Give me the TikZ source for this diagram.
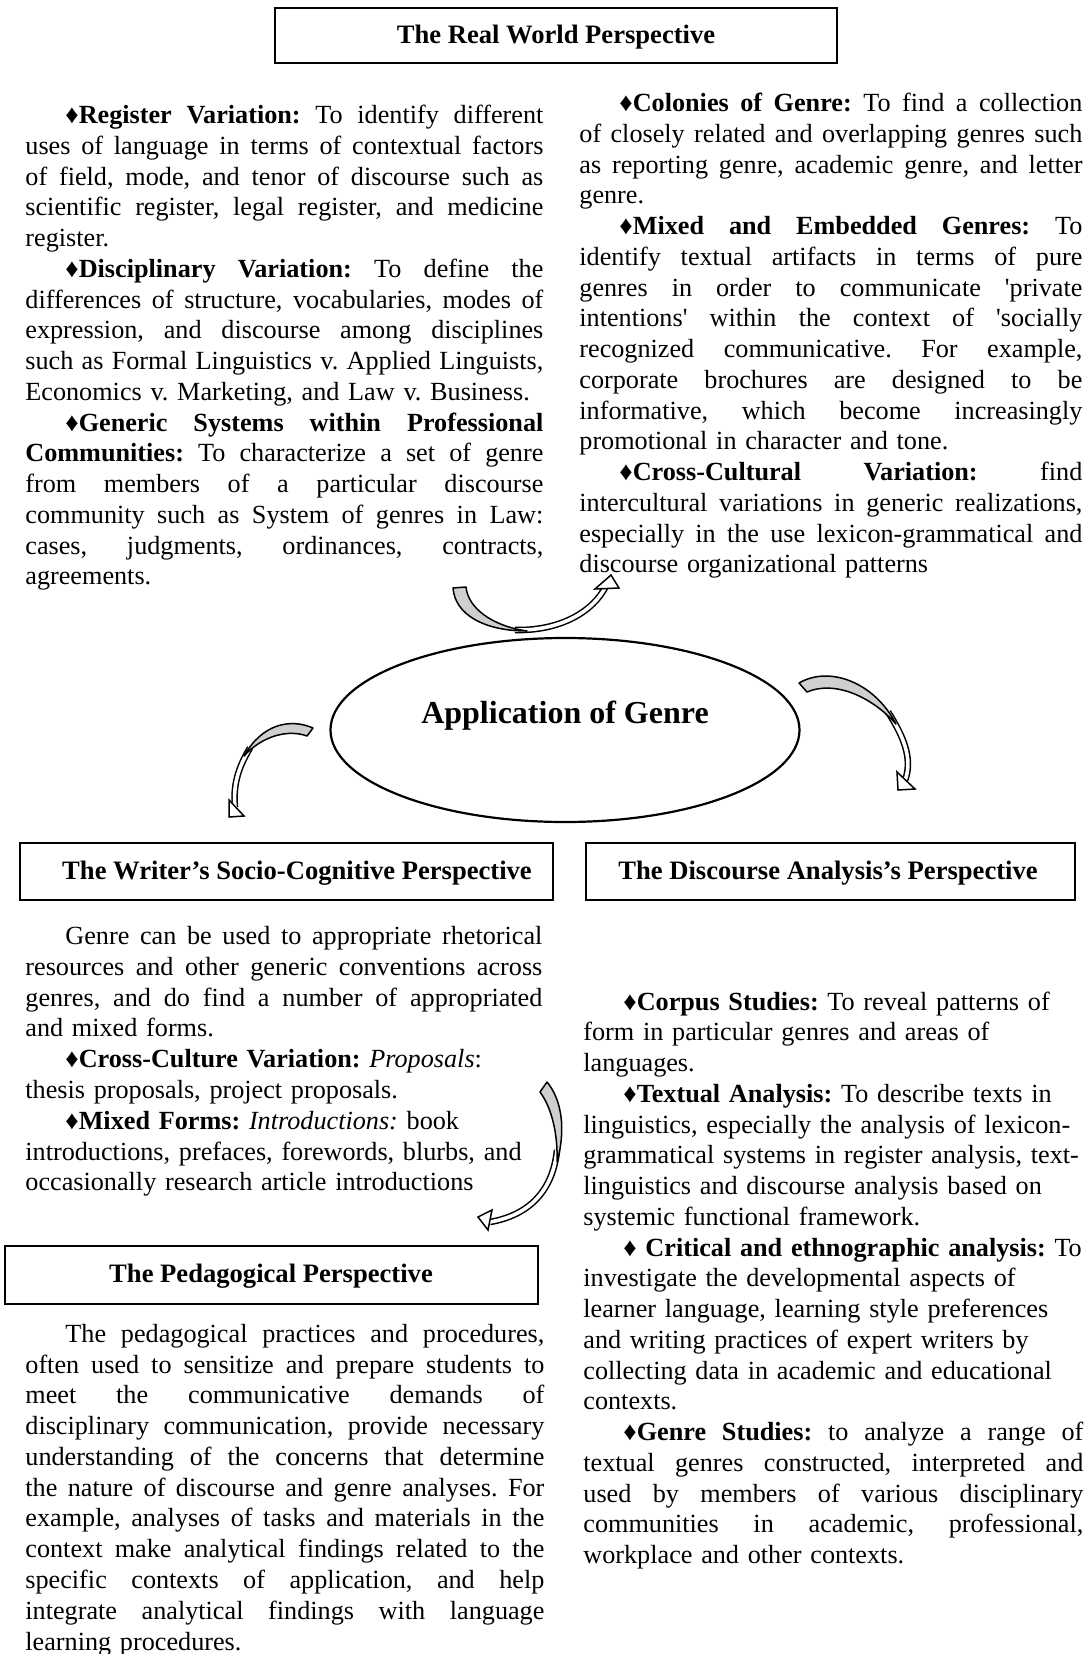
\documentclass[tikz,border=0pt]{standalone}
\usepackage{fontspec}
\setmainfont{Liberation Serif}
\usetikzlibrary{shapes.geometric}
\frenchspacing
% one justified line and one ragged (last) line of a text column
\newdimen\colw
\newcommand\jline[1]{\hbox to\colw{\spaceskip=.25em plus 1fil minus .05em\relax #1}}
\newcommand\rline[1]{\hbox to\colw{#1\hfil}}
\newcommand\ind{\hspace*{20pt}}
\begin{document}
\begin{tikzpicture}[x=0.5pt,y=-0.5pt,
  titlebox/.style={draw, line width=0.6pt},
  title/.style={anchor=base, inner sep=0pt, font=\fontsize{13.3}{15.4}\selectfont\bfseries},
  col/.style={anchor=base west, inner sep=0pt, text width=#1,
    font=\fontsize{13.1}{15.38}\selectfont},
  band/.style={line width=0.75pt, double=white, double distance=1.8pt},
  tailfill/.style={fill=gray!38, draw=black, line width=0.75pt, line join=round},
  headfill/.style={fill=white, draw=black, line width=0.75pt, line join=miter}
]
\fill[white] (0,0) rectangle (1091,1654);
\useasboundingbox (0,0) rectangle (1091,1654);

% ---------- title boxes ----------
\draw[titlebox] (275,8) rectangle (837,63);
\node[title] (rwt) at (556,43) {The Real World Perspective};

\draw[titlebox] (20,843) rectangle (553,900);
\node[title] (wst) at (297,879) {The Writer’s Socio-Cognitive Perspective};

\draw[titlebox] (586,843) rectangle (1075,900);
\node[title] (dat) at (828,879) {The Discourse Analysis’s Perspective};

\draw[titlebox] (5,1246) rectangle (538,1304);
\node[title] (pdt) at (271,1282) {The Pedagogical Perspective};

% ---------- central ellipse ----------
\node[ellipse, draw, line width=1.1pt, minimum width=234.5pt, minimum height=92pt, inner sep=0pt] (app) at (565,730) {};
\node[anchor=base, inner sep=0pt, font=\fontsize{16}{19}\selectfont\bfseries] (apptext) at (565,723) {Application of Genre};

% ---------- real world texts ----------
\node[col=259pt] (rwl) at (25,123.5) {\colw=259pt\relax
\jline{\ind{\bfseries ♦Register Variation:} To identify different}
\jline{uses of language in terms of contextual factors}
\jline{of field, mode, and tenor of discourse such as}
\jline{scientific register, legal register, and medicine}
\rline{register.}
\jline{\ind{\bfseries ♦Disciplinary Variation:} To define the}
\jline{differences of structure, vocabularies, modes of}
\jline{expression, and discourse among disciplines}
\jline{such as Formal Linguistics v. Applied Linguists,}
\rline{Economics v. Marketing, and Law v. Business.}
\jline{\ind{\bfseries ♦Generic Systems within Professional}}
\jline{{\bfseries Communities:} To characterize a set of genre}
\jline{from members of a particular discourse}
\jline{community such as System of genres in Law:}
\jline{cases, judgments, ordinances, contracts,}
\rline{agreements.}};

\node[col=251.5pt] (rwr) at (579,111.5) {\colw=251.5pt\relax
\jline{\ind{\bfseries ♦Colonies of Genre:} To find a collection}
\jline{of closely related and overlapping genres such}
\jline{as reporting genre, academic genre, and letter}
\rline{genre.}
\jline{\ind{\bfseries ♦Mixed and Embedded Genres:} To}
\jline{identify textual artifacts in terms of pure}
\jline{genres in order to communicate \textquotesingle private}
\jline{intentions\textquotesingle{} within the context of \textquotesingle socially}
\jline{recognized communicative. For example,}
\jline{corporate brochures are designed to be}
\jline{informative, which become increasingly}
\rline{promotional in character and tone.}
\jline{\ind{\bfseries ♦Cross-Cultural Variation:} find}
\jline{intercultural variations in generic realizations,}
\jline{especially in the use lexicon-grammatical and}
\rline{discourse organizational patterns}};

% ---------- writer's socio-cognitive texts ----------
\node[col=258.5pt] (wsc) at (25,944.7) {\colw=258.5pt\relax
\jline{\ind Genre can be used to appropriate rhetorical}
\jline{resources and other generic conventions across}
\jline{genres, and do find a number of appropriated}
\rline{and mixed forms.}
\rline{\ind{\bfseries ♦Cross-Culture Variation:} \textit{Proposals}:}
\rline{thesis proposals, project proposals.}
\rline{\ind{\bfseries ♦Mixed Forms:} \textit{Introductions:} book}
\rline{introductions, prefaces, forewords, blurbs, and}
\rline{occasionally research article introductions}};

% ---------- discourse analysis texts ----------
\node[col=250pt] (dap) at (583,1010) {\colw=250pt\relax
\rline{\ind{\bfseries ♦Corpus Studies:} To reveal patterns of}
\rline{form in particular genres and areas of}
\rline{languages.}
\rline{\ind{\bfseries ♦Textual Analysis:} To describe texts in}
\rline{linguistics, especially the analysis of lexicon-}
\rline{grammatical systems in register analysis, text-}
\rline{linguistics and discourse analysis based on}
\rline{systemic functional framework.}
\rline{\ind{\bfseries ♦ Critical and ethnographic analysis:} To}
\rline{investigate the developmental aspects of}
\rline{learner language, learning style preferences}
\rline{and writing practices of expert writers by}
\rline{collecting data in academic and educational}
\rline{contexts.}
\jline{\ind{\bfseries ♦Genre Studies:} to analyze a range of}
\jline{textual genres constructed, interpreted and}
\jline{used by members of various disciplinary}
\jline{communities in academic, professional,}
\rline{workplace and other contexts.}};

% ---------- pedagogical texts ----------
\node[col=259.5pt] (ped) at (25,1342.4) {\colw=259.5pt\relax
\jline{\ind The pedagogical practices and procedures,}
\jline{often used to sensitize and prepare students to}
\jline{meet the communicative demands of}
\jline{disciplinary communication, provide necessary}
\jline{understanding of the concerns that determine}
\jline{the nature of discourse and genre analyses. For}
\jline{example, analyses of tasks and materials in the}
\jline{context make analytical findings related to the}
\jline{specific contexts of application, and help}
\jline{integrate analytical findings with language}
\rline{learning procedures.}};

% ---------- curved block arrows ----------
% upper arrow
\draw[band] (515,630) .. controls (560,631) and (593,612) .. (606,586);
\filldraw[tailfill] (453,588) .. controls (455,615) and (485,631) .. (527,631)
  .. controls (492,626) and (468,608) .. (466,587) -- cycle;
\filldraw[headfill] (595,589) -- (611,575) -- (619,588) -- cycle;

% left arrow
\draw[band] (250,748) .. controls (238,768) and (233,785) .. (235,807);
\filldraw[tailfill] (313,728) .. controls (290,718) and (262,724) .. (244,756)
  .. controls (262,736) and (288,729) .. (307,736) -- cycle;
\filldraw[headfill] (229,800) -- (229,817) -- (244,816) -- cycle;

% right arrow
\draw[band] (888,712) .. controls (906,740) and (913,762) .. (904,783);
\filldraw[tailfill] (799,683) .. controls (830,665) and (875,683) .. (896,724)
  .. controls (872,697) and (835,680) .. (807,692) -- cycle;
\filldraw[headfill] (897,772) -- (898,790) -- (915,789) -- cycle;

% middle arrow
\draw[band] (557,1150) .. controls (553,1190) and (530,1215) .. (490,1222);
\filldraw[tailfill] (547,1082) .. controls (562,1100) and (566,1130) .. (557,1162)
  .. controls (558,1135) and (552,1108) .. (540,1092) -- cycle;
\filldraw[headfill] (492,1210) -- (478,1217) -- (488,1230) -- cycle;
\end{tikzpicture}
\end{document}
